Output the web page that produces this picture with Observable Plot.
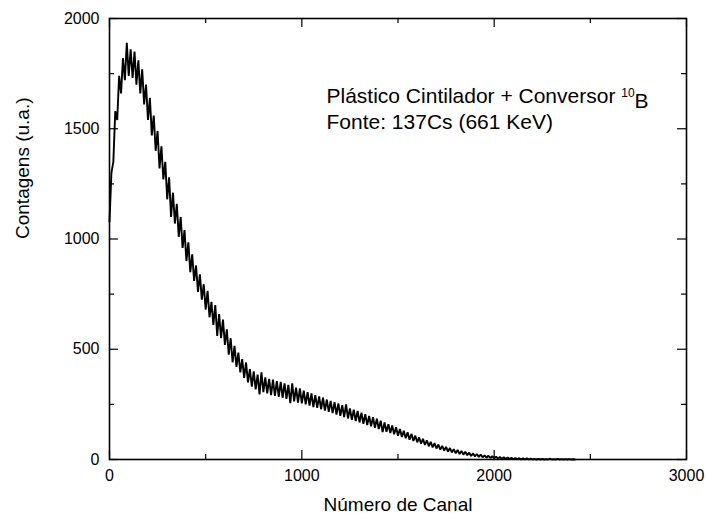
<!DOCTYPE html>
<html>
<head>
<meta charset="utf-8">
<script src="https://cdn.jsdelivr.net/npm/d3@7"></script>
<script src="https://cdn.jsdelivr.net/npm/@observablehq/plot@0.6"></script>
<style>
  html, body { margin: 0; padding: 0; background: #fff; }
</style>
</head>
<body>
<div id="chart"></div>
<script>
// Channel spacing of the sampled counts
const channelStep = 10;
// Counts, channel 0 .. 2420 every 10 channels
const counts = [
  1080,1300,1350,1580,1540,1740,1660,1820,1720,1890,
  1740,1860,1730,1850,1700,1810,1660,1770,1610,1700,
  1540,1640,1470,1560,1400,1490,1320,1420,1270,1350,
  1180,1280,1100,1210,1070,1160,1010,1100,960,1040,
  900,985,850,930,810,880,760,840,725,795,
  680,765,645,715,610,700,560,660,550,635,
  520,590,475,550,440,515,420,485,395,455,
  370,440,350,410,330,400,318,385,295,395,
  305,372,300,366,292,362,288,355,284,352,
  280,345,275,338,255,345,264,326,258,322,
  255,312,250,305,244,300,238,292,234,286,
  228,280,222,272,216,266,210,260,204,254,
  198,246,192,250,186,232,180,226,174,220,
  168,212,162,206,156,198,150,192,144,185,
  138,176,124,168,126,160,120,154,114,146,
  108,138,102,130,96,124,90,116,84,108,
  78,100,72,94,66,87,60,80,55,74,
  50,68,45,62,40,57,36,52,32,47,
  28,43,25,39,22,35,19,31,16,28,
  14,25,12,22,10,19,8,17,7,15,
  5,13,4,11,3,10,2,9,2,8,
  1,7,1,6,0,5,0,5,0,4,
  0,3,0,3,0,3,0,2,0,4,
  0,2,0,3,0,2,0,2,0,2,
  0,1,0
];
const xDomain = [0, 3000];
const yDomain = [0, 2000];
const xMajor = [0, 1000, 2000, 3000];
const xMinor = [500, 1500, 2500];
const yMajor = [0, 500, 1000, 1500, 2000];
const yMinor = [250, 750, 1250, 1750];
const xTitle = "Número de Canal";
const yTitle = "Contagens (u.a.)";
const noteLine1 = "Plástico Cintilador + Conversor ";
const noteSup = "10";
const noteTail = "B";
const noteLine2 = "Fonte: 137Cs (661 KeV)";

const data = counts.map((v, i) => ({ch: i * channelStep, v}));

const W = 707, H = 523;
const mL = 109, mR = 21, mT = 18, mB = 64;
const pw = W - mL - mR, ph = H - mT - mB;
const majorLen = 9, minorLen = 5;
const font = "'Liberation Sans', Arial, Helvetica, sans-serif";

const chart = Plot.plot({
  width: W, height: H,
  marginLeft: mL, marginRight: mR, marginTop: mT, marginBottom: mB,
  x: {domain: xDomain},
  y: {domain: yDomain},
  style: {fontFamily: font, background: "white", color: "black"},
  marks: [
    Plot.line(data, {x: "ch", y: "v", stroke: "black", strokeWidth: 1.9, strokeLinejoin: "miter"}),
    // inward ticks, bottom & top
    Plot.ruleX(xMajor, {x: d => d, insetTop: ph - majorLen, stroke: "black", strokeWidth: 1.2}),
    Plot.ruleX(xMinor, {x: d => d, insetTop: ph - minorLen, stroke: "black", strokeWidth: 1.2}),
    Plot.ruleX(xMajor, {x: d => d, insetBottom: ph - majorLen, stroke: "black", strokeWidth: 1.2}),
    Plot.ruleX(xMinor, {x: d => d, insetBottom: ph - minorLen, stroke: "black", strokeWidth: 1.2}),
    // inward ticks, left & right
    Plot.ruleY(yMajor, {y: d => d, insetRight: pw - majorLen, stroke: "black", strokeWidth: 1.2}),
    Plot.ruleY(yMinor, {y: d => d, insetRight: pw - minorLen, stroke: "black", strokeWidth: 1.2}),
    Plot.ruleY(yMajor, {y: d => d, insetLeft: pw - majorLen, stroke: "black", strokeWidth: 1.2}),
    Plot.ruleY(yMinor, {y: d => d, insetLeft: pw - minorLen, stroke: "black", strokeWidth: 1.2}),
    Plot.frame({stroke: "black", strokeWidth: 1.6}),
    Plot.axisX({ticks: xMajor, tickSize: 0, tickPadding: 10, fontSize: 16, label: null, tickFormat: d => String(d)}),
    Plot.axisY({ticks: yMajor, tickSize: 0, tickPadding: 10, fontSize: 16, label: null, tickFormat: d => String(d)}),
    Plot.text([xTitle], {text: d => d, frameAnchor: "bottom", dy: 51, fontSize: 19, fill: "black"}),
    Plot.text([yTitle], {text: d => d, frameAnchor: "left", dx: -87, rotate: -90, fontSize: 19, fill: "black"}),
    Plot.text([noteLine1], {text: d => d, frameAnchor: "top-left", textAnchor: "start", dx: 217, dy: 70, fontSize: 21, fill: "black", className: "note1"}),
    Plot.text([noteLine2], {text: d => d, frameAnchor: "top-left", textAnchor: "start", dx: 217, dy: 96, fontSize: 21, fill: "black"})
  ]
});

document.getElementById("chart").appendChild(chart);

// superscript "10" and the "B" after the first annotation line
d3.select(chart).selectAll("g.note1 text").each(function() {
  const t = d3.select(this);
  t.append("tspan").attr("font-size", 12).attr("dy", "-0.55em").text(noteSup);
  t.append("tspan").attr("font-size", 21).attr("dy", "0.55em").text(noteTail);
});
</script>
</body>
</html>
